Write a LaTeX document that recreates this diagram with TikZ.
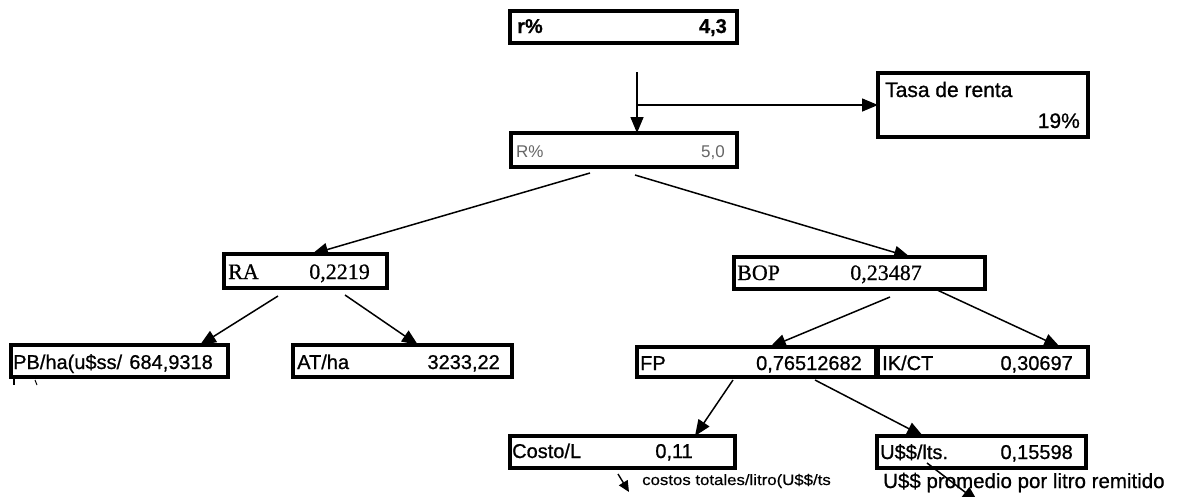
\documentclass[tikz,border=0pt]{standalone}
\usepackage{fontspec}
\newfontfamily\lsans[FakeBold=0.8]{Liberation Sans}
\newfontfamily\lserif[FakeBold=0.6]{Liberation Serif}
\newfontfamily\lsanswide[FakeStretch=1.12,FakeBold=0.5]{Liberation Sans}
\newfontfamily\lsanslight{Liberation Sans}
\usetikzlibrary{arrows.meta,calc}
\begin{document}
\begin{tikzpicture}[x=1pt,y=-1pt,
  box/.style={draw, line width=3.5pt, inner sep=0pt, outer sep=0pt, anchor=north west},
  lbl/.style={font=\lsans\fontsize{20}{24}\selectfont, inner sep=0pt},
  slbl/.style={font=\lserif\fontsize{22}{26}\selectfont, inner sep=0pt},
  glbl/.style={font=\lsanslight\fontsize{17}{20}\selectfont, inner sep=0pt, text=black!60},
  arr/.style={-{Triangle[length=16pt,width=13pt]}, line width=1.5pt},
  smallarr/.style={-{Triangle[length=11pt,width=10pt]}, line width=1.4pt}]
\useasboundingbox (0,0) rectangle (1186,496);
\fill[white] (0,0) rectangle (1186,496);

% boxes
\node[box, minimum width=227pt, minimum height=32pt] (r) at (510,11) {};
\node[box, minimum width=226pt, minimum height=34pt] (R) at (511,133) {};
\node[box, minimum width=210pt, minimum height=64pt] (T) at (878,73) {};
\node[box, minimum width=163pt, minimum height=34pt] (RA) at (224,254) {};
\node[box, minimum width=251pt, minimum height=32pt] (BOP) at (734,257) {};
\node[box, minimum width=217pt, minimum height=32pt] (PB) at (11,345) {};
\node[box, minimum width=219pt, minimum height=32pt] (AT) at (293,345) {};
\node[box, minimum width=239pt, minimum height=30pt] (FP) at (637,347) {};
\node[box, minimum width=210pt, minimum height=30pt] (IK) at (878,347) {};
\node[box, minimum width=225pt, minimum height=32pt] (C) at (510,436) {};
\node[box, minimum width=209pt, minimum height=32pt] (U) at (877,436) {};

% texts
\node[lbl, anchor=base west] (rL) at (517,33) {\bfseries r\%};
\node[lbl, anchor=base east] (rV) at (727,33) {\bfseries 4,3};
\node[glbl, anchor=base west] (RL) at (516,157) {R\%};
\node[glbl, anchor=base east] (RV) at (725,157) {5,0};
\node[lbl, font=\lsans\fontsize{21}{25}\selectfont, anchor=base west] (TL) at (885,97) {Tasa de renta};
\node[lbl, font=\lsans\fontsize{21}{25}\selectfont, anchor=base east] (TV) at (1080,128) {19\%};
\node[slbl, anchor=base west] (RAL) at (228,279) {RA};
\node[slbl, anchor=base east] (RAV) at (370,279) {0,2219};
\node[slbl, anchor=base west] (BOPL) at (737,280) {BOP};
\node[slbl, anchor=base east] (BOPV) at (922,280) {0,23487};
\node[lbl, anchor=base west] (PBL) at (13,369) {PB/ha(u\$ss/};
\node[lbl, anchor=base east] (PBV) at (213,369) {684,9318};
\node[lbl, anchor=base west] (ATL) at (297,369) {AT/ha};
\node[lbl, anchor=base east] (ATV) at (500,369) {3233,22};
\node[lbl, anchor=base west] (FPL) at (640,370) {FP};
\node[lbl, anchor=base east] (FPV) at (862,370) {0,76512682};
\node[lbl, anchor=base west] (IKL) at (882,370) {IK/CT};
\node[lbl, anchor=base east] (IKV) at (1073,370) {0,30697};
\node[lbl, anchor=base west] (CL) at (512,458) {Costo/L};
\node[lbl, anchor=base east] (CV) at (693,458) {0,11};
\node[lbl, anchor=base west] (UL) at (880,459) {U\$\$/lts.};
\node[lbl, anchor=base east] (UV) at (1073,459) {0,15598};
\node[inner sep=0pt, font=\lsanswide\fontsize{15}{18}\selectfont, anchor=base west] (cost) at (642,485) {costos totales/litro(U\$\$/ts};
\node[lbl, font=\lsans\fontsize{20.5}{24}\selectfont, anchor=base west] (prom) at (883,488) {U\$\$ promedio por litro remitido};

% connectors
\coordinate (top) at ([shift={(127,29)}]r.south west);
\draw[arr] (top) -- (top |- R.north);
\draw[arr] (top |- T.west) -- (T.west);
\draw[arr] ([shift={(79,6)}]R.south west) -- ([shift={(88,0)}]RA.north west);
\draw[arr] ([shift={(124,8)}]R.south west) -- ([shift={(176,0)}]BOP.north west);
\draw[arr] ([shift={(54,8)}]RA.south west) -- ([shift={(189,0)}]PB.north west);
\draw[arr] ([shift={(121,7)}]RA.south west) -- ([shift={(125,0)}]AT.north west);
\draw[arr] ([shift={(156,8)}]BOP.south west) -- ([shift={(133,0)}]FP.north west);
\draw[arr] ([shift={(201,0)}]BOP.south west) -- ([shift={(182,0)}]IK.north west);
\draw[arr] ([shift={(96,3)}]FP.south west) -- ([shift={(185,0)}]C.north west);
\draw[arr] ([shift={(178,3)}]FP.south west) -- ([shift={(46,0)}]U.north west);
\coordinate (uend) at (978,502);
\draw[arr] ([shift={(50,-5)}]U.south west) -- (uend);
\coordinate (ca1) at (618,474);
\coordinate (ca2) at (629,492);
\draw[smallarr] (ca1) -- (ca2);

% scan marks below PB box
\draw[line width=1.4pt] ([shift={(3,0)}]PB.south west) -- ++(0,8);
\draw[line width=1pt] ([shift={(24,3)}]PB.south west) -- ++(2,5);
\end{tikzpicture}
\end{document}
